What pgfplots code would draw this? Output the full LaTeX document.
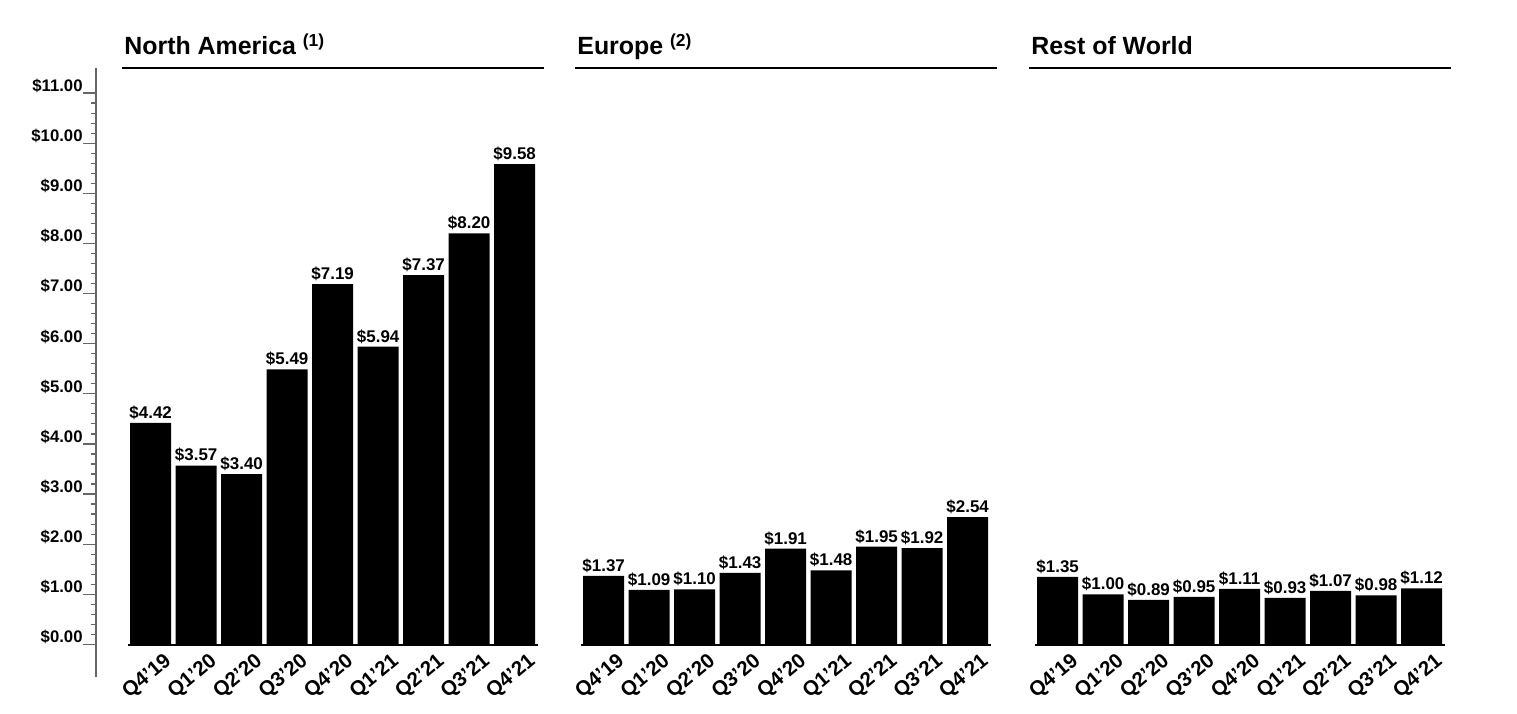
\documentclass[border=0pt]{standalone}
\usepackage{fontspec}
\setmainfont{Liberation Sans}
\usepackage{pgfplots}
\pgfplotsset{compat=1.18}
\pgfkeys{/pgf/number format/assume math mode=true}
\definecolor{axgray}{HTML}{666666}
\tikzset{ptitle/.style={anchor=base west, inner sep=0pt, xshift=1bp, yshift=6.5bp,
    font=\bfseries\fontsize{12.5}{14}\selectfont}}
\begin{document}
\begin{tikzpicture}
\path[use as bounding box] (0bp,0bp) rectangle (758.5bp,357bp);
\pgfplotsset{
  panel/.style={
    at={(#1,34.75bp)}, anchor=south west,
    scale only axis, width=211bp, height=288.25bp,
    xmin=-0.63, xmax=8.645, ymin=0, ymax=11.5,
    clip=false,
    axis line style={draw=none},
    major tick length=0pt, minor tick length=0pt,
    ytick=\empty,
    xtick={0,...,8},
    xticklabels={Q4’19,Q1’20,Q2’20,Q3’20,Q4’20,Q1’21,Q2’21,Q3’21,Q4’21},
    xticklabel style={rotate=40, anchor=north east, inner sep=0pt, xshift=2.5bp, yshift=-6.5bp,
      font=\bfseries\fontsize{10.3}{11}\selectfont},
    ybar, bar width=0.9,
    nodes near coords={\$\pgfmathprintnumber[fixed,fixed zerofill,precision=2]{\pgfplotspointmeta}},
    every node near coord/.append style={font=\bfseries\fontsize{8.5}{10}\selectfont, inner sep=1.5bp, black},
  },
}
% y axis
\begin{axis}[
  at={(48bp,18.75bp)}, anchor=south west,
  scale only axis, width=1bp, height=304.25bp,
  xmin=0, xmax=1, ymin=-0.64, ymax=11.5,
  hide x axis,
  axis y line*=left,
  y axis line style={axgray, line width=1bp},
  ytick={0,...,11}, minor y tick num=4,
  tick align=outside,
  major tick length=6.5bp, minor tick length=2.5bp,
  every tick/.style={axgray, line width=0.6bp},
  yticklabel={\$\pgfmathprintnumber[fixed,fixed zerofill,precision=2]{\tick}},
  yticklabel style={anchor=south east, inner sep=0pt, xshift=0bp, yshift=0bp,
    font=\bfseries\fontsize{8.4}{10}\selectfont},
]
\addplot[draw=none] coordinates {(0,0)};
\end{axis}
% North America
\begin{axis}[panel=61bp]
\addplot[fill=black, draw=none] coordinates {(0,4.42) (1,3.57) (2,3.40) (3,5.49) (4,7.19) (5,5.94) (6,7.37) (7,8.20) (8,9.58)};
\draw[line width=1.25bp] (rel axis cs:0,1) -- (rel axis cs:1,1);
\draw[line width=1bp] (axis cs:-0.5,0) -- (axis cs:8.52,0);
\node[ptitle] at (rel axis cs:0,1) {North America \textsuperscript{(1)}};
\end{axis}
% Europe
\begin{axis}[panel=287.5bp]
\addplot[fill=black, draw=none] coordinates {(0,1.37) (1,1.09) (2,1.10) (3,1.43) (4,1.91) (5,1.48) (6,1.95) (7,1.92) (8,2.54)};
\draw[line width=1.25bp] (rel axis cs:0,1) -- (rel axis cs:1,1);
\draw[line width=1bp] (axis cs:-0.5,0) -- (axis cs:8.52,0);
\node[ptitle] at (rel axis cs:0,1) {Europe \textsuperscript{(2)}};
\end{axis}
% Rest of World
\begin{axis}[panel=514.5bp]
\addplot[fill=black, draw=none] coordinates {(0,1.35) (1,1.00) (2,0.89) (3,0.95) (4,1.11) (5,0.93) (6,1.07) (7,0.98) (8,1.12)};
\draw[line width=1.25bp] (rel axis cs:0,1) -- (rel axis cs:1,1);
\draw[line width=1bp] (axis cs:-0.5,0) -- (axis cs:8.52,0);
\node[ptitle] at (rel axis cs:0,1) {Rest of World};
\end{axis}
\end{tikzpicture}
\end{document}
